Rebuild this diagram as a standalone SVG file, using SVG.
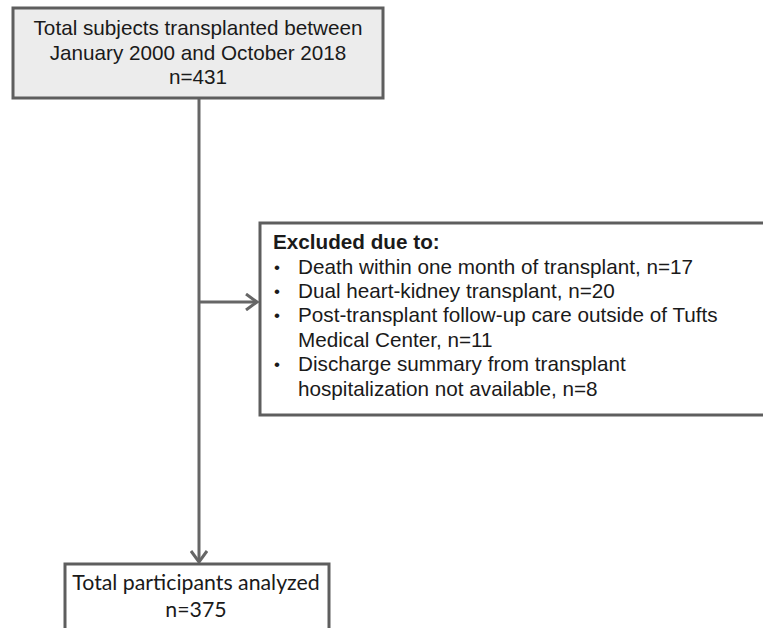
<svg xmlns="http://www.w3.org/2000/svg" width="763" height="628" viewBox="0 0 763 628">
<defs>
<style>
.box{stroke:#5e5e5e;stroke-width:3}
.t{font-family:"Liberation Sans",Arial,sans-serif;font-size:20.7px;fill:#1a1a1a}
.b{font-family:"Liberation Sans",Arial,sans-serif;font-size:17px;fill:#1a1a1a}
.c{font-family:Lato,"Open Sans",sans-serif;font-size:21.3px;fill:#1a1a1a}
.conn{stroke:#666;stroke-width:3;fill:none}
</style>
<marker id="arr" viewBox="0 0 14 18" markerWidth="14" markerHeight="18" refX="12" refY="9" orient="auto" markerUnits="userSpaceOnUse">
<path d="M1,1 L12,9 L1,17" fill="none" stroke="#666" stroke-width="3"/>
</marker>
</defs>
<rect width="763" height="628" fill="#fff"/>
<g id="connectors">
<line class="conn" x1="199" y1="98" x2="199" y2="562" marker-end="url(#arr)"/>
<line class="conn" x1="199" y1="302" x2="257" y2="302" marker-end="url(#arr)"/>
</g>
<g id="total">
<rect class="box" x="13" y="8" width="370" height="90" fill="#ececec"/>
<text class="t" x="198" y="35" text-anchor="middle">Total subjects transplanted between</text>
<text class="t" x="198" y="60" text-anchor="middle">January 2000 and October 2018</text>
<text class="t" x="198" y="84" text-anchor="middle">n=431</text>
</g>
<g id="excluded">
<rect class="box" x="260" y="223" width="520" height="192" fill="#fff"/>
<text class="t" x="273" y="249" font-weight="bold">Excluded due to:</text>
<g class="b">
<text x="274" y="273">•</text>
<text x="274" y="297">•</text>
<text x="274" y="321">•</text>
<text x="274" y="370">•</text>
</g>
<g class="t">
<text x="298" y="274">Death within one month of transplant, n=17</text>
<text x="298" y="298">Dual heart-kidney transplant, n=20</text>
<text x="298" y="322">Post-transplant follow-up care outside of Tufts</text>
<text x="298" y="347">Medical Center, n=11</text>
<text x="298" y="371">Discharge summary from transplant</text>
<text x="298" y="396">hospitalization not available, n=8</text>
</g>
</g>
<g id="analyzed">
<rect class="box" x="65" y="564" width="264" height="80" fill="#fff"/>
<text class="c" x="196" y="590" text-anchor="middle">Total participants analyzed</text>
<text class="c" x="196" y="617" text-anchor="middle">n=375</text>
</g>
</svg>
